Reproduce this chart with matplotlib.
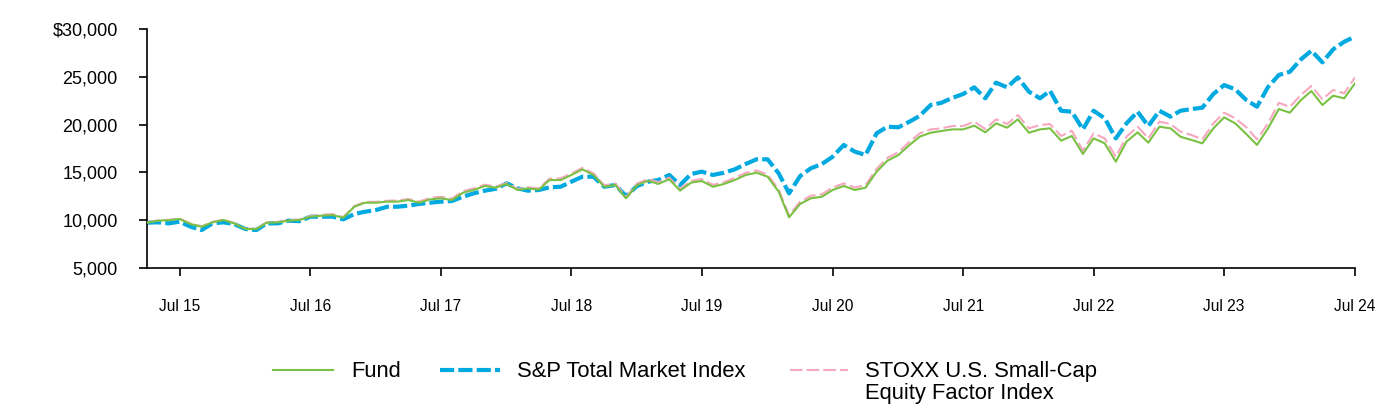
import matplotlib
matplotlib.use("Agg")
import matplotlib.pyplot as plt
import matplotlib.dates as mdates
from matplotlib.lines import Line2D
import pandas as pd

plt.rcParams['font.family'] = ['Liberation Sans', 'DejaVu Sans']

# monthly values, Apr 2015 .. Jul 2024
start_month = "2015-04-01"

fund = [9740, 9950, 10000, 10130, 9600, 9320, 9780, 10020, 9670, 9080, 9080, 9740,
        9780, 9950, 10020, 10370, 10470, 10540, 10260, 11410, 11830, 11830, 11940, 11940,
        12110, 11830, 12180, 12290, 12110, 12880, 13160, 13580, 13400, 13790, 13160, 13330,
        13200, 14200, 14200, 14730, 15320, 14730, 13500, 13680, 12290, 13680, 14130, 13790,
        14280, 13090, 13930, 14100, 13500, 13790, 14200, 14730, 14970, 14550, 12980, 10300,
        11700, 12290, 12460, 13160, 13580, 13160, 13400, 15080, 16220, 16820, 17870, 18730,
        19150, 19330, 19500, 19500, 19890, 19190, 20130, 19680, 20550, 19150, 19500, 19610,
        18320, 18810, 16930, 18560, 18040, 16120, 18220, 19190, 18110, 19780, 19610, 18730,
        18390, 18040, 19610, 20760, 20130, 19020, 17870, 19610, 21630, 21250, 22570, 23510,
        22050, 23020, 22750, 24320]

sp_total = [9740, 9780, 9670, 9850, 9320, 8970, 9670, 9780, 9600, 9080, 8970, 9670,
            9670, 9950, 9900, 10370, 10370, 10370, 10090, 10650, 10890, 11070, 11410, 11410,
            11520, 11700, 11830, 11940, 12010, 12460, 12810, 13090, 13280, 13860, 13330, 13090,
            13160, 13440, 13500, 14030, 14550, 14550, 13500, 13680, 12530, 13580, 14030, 14200,
            14730, 13680, 14830, 15080, 14730, 14970, 15320, 15880, 16370, 16370, 14900, 12810,
            14620, 15430, 15880, 16640, 17870, 17170, 16820, 19090, 19780, 19720, 20310, 20900,
            22050, 22280, 22800, 23200, 23900, 22750, 24390, 23900, 24940, 23440, 22750, 23540,
            21450, 21350, 19500, 21450, 20660, 18560, 20130, 21350, 19850, 21450, 20830, 21450,
            21630, 21770, 23200, 24140, 23690, 22570, 21870, 23940, 25190, 25530, 26830, 27730,
            26510, 27870, 28670, 29200]

stoxx = [9760, 9980, 10040, 10170, 9640, 9360, 9820, 10060, 9700, 9110, 9110, 9780,
         9830, 10000, 10080, 10450, 10560, 10640, 10330, 11480, 11920, 11920, 12040, 12050,
         12220, 11950, 12330, 12450, 12260, 13050, 13320, 13720, 13520, 13880, 13260, 13450,
         13320, 14350, 14380, 14880, 15480, 14900, 13650, 13850, 12420, 13850, 14300, 13980,
         14450, 13270, 14130, 14300, 13700, 13990, 14420, 14960, 15210, 14780, 13200, 10500,
         11950, 12550, 12720, 13420, 13850, 13420, 13680, 15380, 16520, 17130, 18200, 19070,
         19500, 19610, 19850, 19850, 20310, 19540, 20550, 20060, 21000, 19610, 19960, 20060,
         18810, 19360, 17280, 19090, 18560, 16640, 18730, 19780, 18560, 20310, 20060, 19260,
         18910, 18460, 20130, 21250, 20660, 19720, 18460, 20130, 22280, 21860, 23100, 24040,
         22650, 23620, 23270, 24940]

labels = ["Fund", "S&P Total Market Index", "STOXX U.S. Small-Cap\nEquity Factor Index"]
y_ticks = [5000, 10000, 15000, 20000, 25000, 30000]
y_labels = ["5,000", "10,000", "15,000", "20,000", "25,000", "$30,000"]

green = "#7AC143"
blue = "#00A9E0"
pink = "#F6A8BE"

dates = pd.date_range(start_month, periods=len(fund), freq="MS")

fig = plt.figure(figsize=(13.96, 4.12), dpi=100)
ax = fig.add_axes([0.1053, 0.3495, 0.8653, 0.5801])

ax.plot(dates, sp_total, color=blue, lw=3.0, dashes=(3.4, 1.0), zorder=2)
ax.plot(dates, stoxx, color=pink, lw=1.5, dashes=(6, 2), zorder=3)
ax.plot(dates, fund, color=green, lw=1.5, zorder=4)

ax.set_xlim(dates[0], dates[-1])
ax.set_ylim(5000, 30000)
ax.set_yticks(y_ticks)
ax.set_yticklabels(y_labels)
ax.xaxis.set_major_locator(mdates.MonthLocator(bymonth=7))
ax.xaxis.set_major_formatter(mdates.DateFormatter("%b %y"))

for s in ["top", "right"]:
    ax.spines[s].set_visible(False)
for s in ["left", "bottom"]:
    ax.spines[s].set_linewidth(1.2)
ax.tick_params(axis="y", length=6, width=1.2, pad=15, labelsize=13, colors="black")
ax.tick_params(axis="x", length=6, width=1.2, pad=16, labelsize=11.2, colors="black")

# legend row below the chart
H = 412.0
W = 1396.0
ly = 1 - 370 / H
top = 1 - 361 / H
handles = [(273, 333, green, 1.5, None), (440, 500, blue, 3.0, (3.4, 1.0)), (790, 848, pink, 1.5, (6, 2))]
text_x = [351, 517, 865]
for (x0, x1, c, lw, d), tx, lab in zip(handles, text_x, labels):
    ln = Line2D([x0 / W, x1 / W], [ly, ly], transform=fig.transFigure, color=c, lw=lw)
    if d:
        ln.set_dashes(d)
    fig.add_artist(ln)
    fig.text(tx / W, top, lab, fontsize=15.8, va="top", ha="left", linespacing=1.05)

fig.savefig("out.png", dpi=100)
